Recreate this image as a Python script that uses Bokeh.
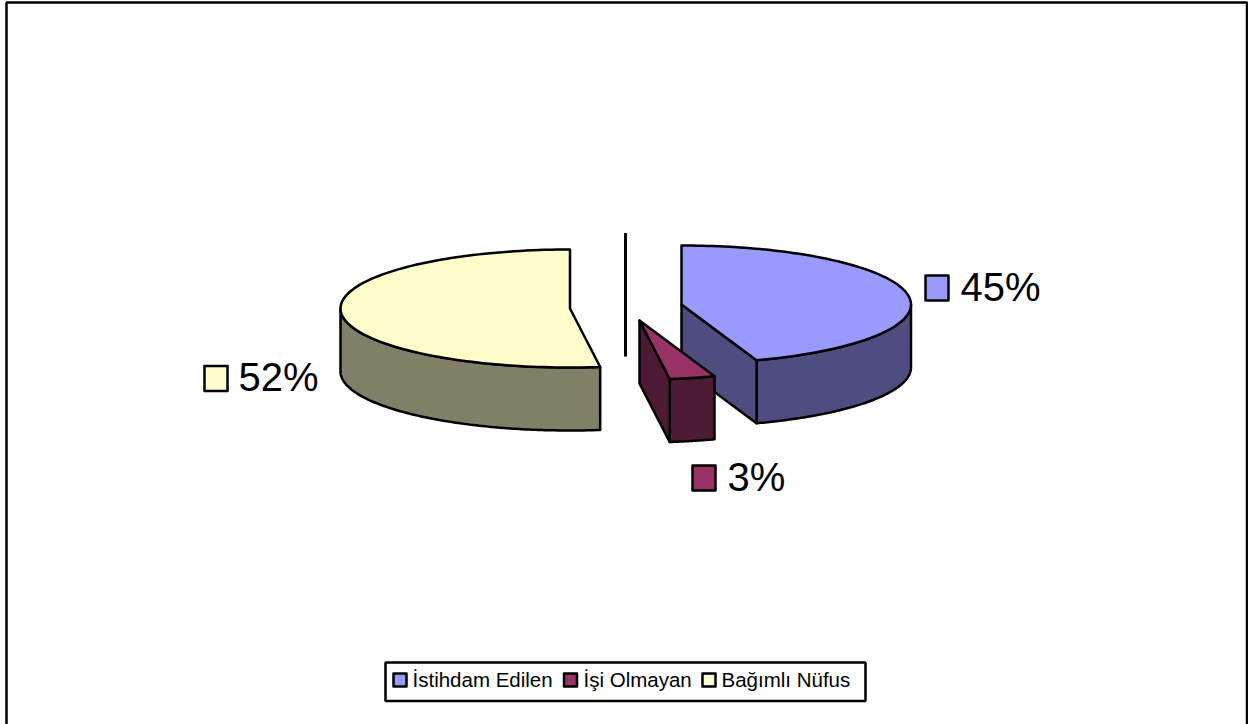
import math
from bokeh.plotting import figure
from bokeh.core.properties import value
from bokeh.embed import file_html
from bokeh.resources import INLINE

# ---- data ----
categories = ["İstihdam Edilen", "İşi Olmayan", "Bağımlı Nüfus"]
shares = [44.7, 3.2, 52.1]
data_labels = ["45%", "3%", "52%"]

# ---- style ----
top_colors = ["#9999FF", "#993366", "#FFFFCC"]
side_colors = ["#4D4D80", "#4D1A33", "#808066"]

# ---- layout (page pixels) ----
W, H = 1248, 724
RX, RY, DEPTH = 229.5, 59, 63
centres = [(681, 304), (639, 320), (569.5, 308)]
label_marker = [(936.5, 287.5), (703.5, 477.5), (215.5, 378)]
label_text = [(960, 286), (727, 476), (238, 376)]
legend_marker = [(399.5, 679.5), (570, 679.5), (708.5, 679.5)]
legend_text = [(412, 679), (583, 679), (721, 679)]

p = figure(width=W, height=H, x_range=(0, W), y_range=(H, 0),
           output_backend="svg", toolbar_location=None,
           min_border=0, outline_line_color=None)
p.axis.visible = False
p.grid.visible = False
p.styles = {"position": "absolute", "left": "0px", "top": "0px"}

# frame of the chart area
p.line([6, 6, 1246.5, 1246.5], [H + 5, 2, 2, H + 5], line_color="black", line_width=2.5)

def pt(c, a, dy=0):
    r = math.radians(a)
    return c[0] + RX * math.sin(r), c[1] - RY * math.cos(r) + dy

def arc(c, a0, a1, dy=0, n=120):
    pts = [pt(c, a0 + (a1 - a0) * i / n, dy) for i in range(n + 1)]
    return [q[0] for q in pts], [q[1] for q in pts]

STROKE = dict(line_color="black", line_width=2.5, line_join="round")

total = sum(shares)
spans = []
acc = 0
for s in shares:
    spans.append((acc * 360 / total, (acc + s) * 360 / total))
    acc += s

for idx in [0, 2, 1]:
    a0, a1 = spans[idx]
    c = centres[idx]
    # outer wall: only the part facing the viewer
    w0, w1 = max(a0, 90), min(a1, 270)
    if w1 > w0:
        xt, yt = arc(c, w0, w1)
        xb, yb = arc(c, w0, w1, DEPTH)
        p.patch(xt + xb[::-1], yt + yb[::-1], fill_color=side_colors[idx], **STROKE)
    # cut face at the end of the slice, seen when it faces left
    if a1 < 180:
        ex, ey = pt(c, a1)
        p.patch([c[0], ex, ex, c[0]], [c[1], ey, ey + DEPTH, c[1] + DEPTH],
                fill_color=side_colors[idx], **STROKE)
    # top face
    xt, yt = arc(c, a0, a1)
    p.patch([c[0]] + xt, [c[1]] + yt, fill_color=top_colors[idx], **STROKE)

# stray vertical rule beside the pie
p.line([625, 625], [232.5, 356], line_color="black", line_width=3)

# data labels with their keys
p.rect([q[0] for q in label_marker], [q[1] for q in label_marker], 23, 25,
       fill_color=top_colors, **STROKE)
p.text([q[0] for q in label_text], [q[1] for q in label_text], text=data_labels,
       text_font=value("Liberation Sans"), text_font_size="40px",
       text_color="black", text_baseline="alphabetic", text_align="left")

# legend
p.quad(left=[385], right=[865], top=[662], bottom=[700.5],
       fill_color="white", line_color="black", line_width=2.5)
p.rect([q[0] for q in legend_marker], [q[1] for q in legend_marker], 13, 13,
       fill_color=top_colors, **STROKE)
p.text([q[0] for q in legend_text], [q[1] for q in legend_text], text=categories,
       text_font=value("Liberation Sans"), text_font_size="20.5px",
       text_color="black", text_baseline="alphabetic", text_align="left")

open("out.html", "w").write(file_html(p, INLINE))
